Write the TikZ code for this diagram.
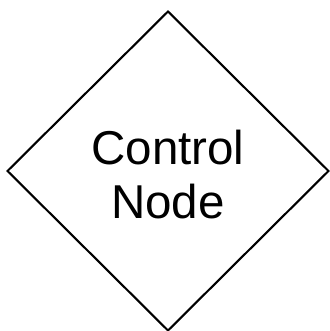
\documentclass[tikz,border=0pt]{standalone}
\usepackage{fontspec}
\setmainfont{Liberation Sans}
\usetikzlibrary{shapes.geometric}
\tikzset{
  decision/.style={
    diamond, draw, line width=2.1pt, inner sep=0pt, outer sep=0pt,
    minimum width=321pt, minimum height=319pt, text height=95pt,
    align=center, font=\fontsize{47.5}{54}\selectfont
  }
}
\begin{document}
\begin{tikzpicture}[x=1pt,y=1pt]
        \useasboundingbox (0,0) rectangle (329,331);
        \node
          [decision]
          (control node) at (168,160)
          {Control\\Node}
        ;
      \end{tikzpicture}
\end{document}
